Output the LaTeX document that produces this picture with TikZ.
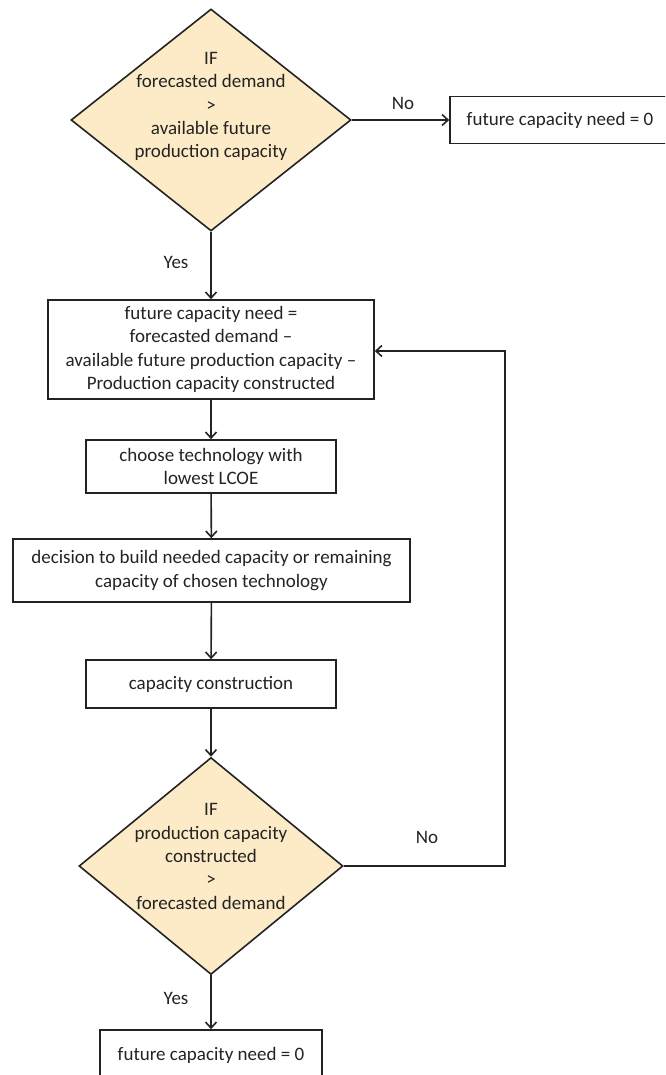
\documentclass[tikz,border=0pt]{standalone}
\usepackage{fontspec}
\setmainfont{Carlito}
\usepackage{tikz}
\usetikzlibrary{arrows.meta,shapes.geometric,positioning}
\definecolor{decfill}{RGB}{252,235,198}
\definecolor{inkgray}{RGB}{35,35,35}

\begin{document}
\begin{tikzpicture}[x=1pt, y=-1pt, >={Straight Barb[length=6pt,width=11pt]},
  every node/.style={font=\fontsize{19}{23.3}\selectfont, text=inkgray},
  procbox/.style={draw=inkgray, line width=1.6pt, rectangle, align=center, inner sep=1pt},
  decision/.style={draw=inkgray, line width=1.6pt, diamond, fill=decfill, inner sep=0pt},
  dectext/.style={align=center, text=inkgray},
  flow/.style={->, draw=inkgray, line width=1.6pt}]
  \useasboundingbox (0,0) rectangle (665,1075);
  \clip (0,0) rectangle (665,1075);

  % First test: demand against available capacity
  \node[decision, minimum width=280pt, minimum height=222pt,
        label={[dectext, yshift=13.5pt]center:IF\\forecasted demand\\>\\available future\\production capacity}]
        (demandtest) at (211,120) {};
  \node[procbox, minimum width=220pt, minimum height=47pt] (zerotop) at (560,120) {future capacity need = 0};

  % Main chain
  \node[procbox, minimum width=326pt, minimum height=99pt] (capneed) at (211,349.5)
    {future capacity need =\\forecasted demand --\\available future production capacity --\\Production capacity constructed};
  \node[procbox, minimum width=250pt, minimum height=53pt] (choosetech) at (211,466.5)
    {choose technology with\\lowest LCOE};
  \node[procbox, minimum width=397pt, minimum height=63pt] (buildchoice) at (211.5,570.5)
    {decision to build needed capacity or remaining\\capacity of chosen technology};
  \node[procbox, minimum width=250pt, minimum height=48pt] (construct) at (211,684) {capacity construction};

  % Second test: constructed capacity against demand
  \node[decision, minimum width=264pt, minimum height=217pt,
        label={[dectext, yshift=9.5pt]center:IF\\production capacity\\constructed\\>\\forecasted demand}]
        (constructtest) at (211,866) {};
  \node[procbox, minimum width=222pt, minimum height=50pt] (zerobottom) at (211,1055) {future capacity need = 0};

  % Connectors
  \draw[flow] (demandtest.east) -- (zerotop.west);
  \node (notop) at (403,103) {No};
  \draw[flow] (demandtest.south) -- (capneed.north);
  \node (yestop) at (176,262) {Yes};
  \draw[flow] (capneed) -- (choosetech);
  \draw[flow] (choosetech) -- (buildchoice);
  \draw[flow] (buildchoice) -- (construct);
  \draw[flow] (construct) -- (constructtest.north);
  \draw[flow] (constructtest.south) -- (zerobottom.north);
  \node (yesbottom) at (176,998) {Yes};

  % Loop back
  \coordinate (loopcorner) at (505,351);
  \draw[flow] (constructtest.east) -| (loopcorner) -- (loopcorner -| capneed.east);
  \node (nobottom) at (427,837) {No};
\end{tikzpicture}
\end{document}
